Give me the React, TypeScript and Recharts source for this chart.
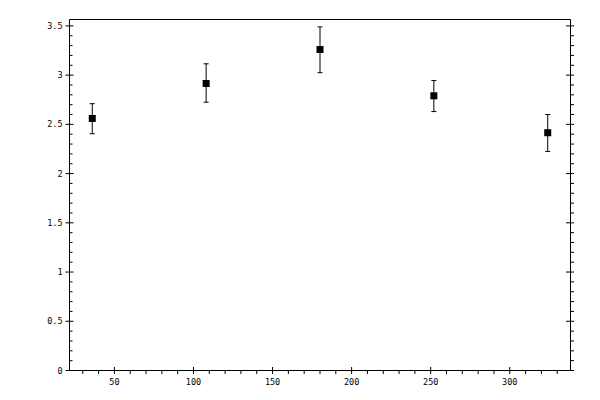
import React from "react";
import { ScatterChart, Scatter, XAxis, YAxis, ErrorBar } from "recharts";

// measured points (x, y) with asymmetric error bars
const xValues = [36, 108, 180, 252, 324];
const yValues = [2.56, 2.915, 3.26, 2.79, 2.415];
const errUp = [0.15, 0.2, 0.23, 0.155, 0.185];
const errDown = [0.155, 0.19, 0.235, 0.16, 0.19];

// axis ticks and labels
const xTicks = [50, 100, 150, 200, 250, 300];
const xTickLabels = ["50", "100", "150", "200", "250", "300"];
const yTicks = [0, 0.5, 1, 1.5, 2, 2.5, 3, 3.5];
const yTickLabels = ["0", "0.5", "1", "1.5", "2", "2.5", "3", "3.5"];

// minor ticks every 10 on x, every 0.1 on y
const xMinor = Array.from({ length: 31 }, (_, i) => 30 + i * 10);
const yMinor = Array.from({ length: 36 }, (_, i) => i / 10);

const data = xValues.map((x, i) => ({
  x,
  y: yValues[i],
  err: [errDown[i], errUp[i]],
}));

const font = { fontFamily: "DejaVu Sans Mono", fontSize: 8.5, fill: "#000" };

const BottomTick = (props: any) => {
  const { x, y, payload } = props;
  const idx = xTicks.indexOf(payload.value);
  if (idx < 0) return <line x1={x} x2={x} y1={y} y2={y + 3.5} stroke="#000" />;
  return (
    <g>
      <line x1={x} x2={x} y1={y - 3.5} y2={y + 3.5} stroke="#000" />
      <text x={x} y={y + 14} textAnchor="middle" {...font}>
        {xTickLabels[idx]}
      </text>
    </g>
  );
};

const TopTick = (props: any) => {
  const { x, y, payload } = props;
  const major = xTicks.indexOf(payload.value) >= 0;
  return <line x1={x} x2={x} y1={y - 4} y2={major ? y + 4 : y} stroke="#000" />;
};

const LeftTick = (props: any) => {
  const { x, y, payload } = props;
  const idx = yTicks.indexOf(payload.value);
  if (idx < 0) return <line x1={x} x2={x + 3} y1={y} y2={y} stroke="#000" />;
  return (
    <g>
      <line x1={x - 4} x2={x + 4} y1={y} y2={y} stroke="#000" />
      <text x={x - 7} y={y} textAnchor="end" dominantBaseline="central" {...font}>
        {yTickLabels[idx]}
      </text>
    </g>
  );
};

const RightTick = (props: any) => {
  const { x, y, payload } = props;
  const major = yTicks.indexOf(payload.value) >= 0;
  return <line x1={major ? x - 4.5 : x} x2={x + 3.5} y1={y} y2={y} stroke="#000" />;
};

const SquareDot = (props: any) => {
  const { cx, cy } = props;
  return <rect x={cx - 3.5} y={cy - 3.5} width={7} height={7} fill="#000" />;
};

export default function App() {
  return (
    <div style={{ position: "absolute", left: 0, top: 0, width: 600, height: 400, background: "#fff" }}>
      <ScatterChart
        width={600}
        height={400}
        margin={{ top: 18.5, right: 28.5, bottom: 28.5, left: 68.5 }}
      >
        <XAxis
          xAxisId="bottom"
          dataKey="x"
          type="number"
          domain={[21.6, 338.4]}
          allowDataOverflow
          ticks={xMinor}
          interval={0}
          height={1}
          tickSize={0}
          tickMargin={0}
          tick={<BottomTick />}
          axisLine={{ stroke: "#000" }}
        />
        <XAxis
          xAxisId="top"
          orientation="top"
          type="number"
          domain={[21.6, 338.4]}
          allowDataOverflow
          ticks={xMinor}
          interval={0}
          height={1}
          tickSize={0}
          tickMargin={0}
          tick={<TopTick />}
          axisLine={{ stroke: "#000" }}
        />
        <YAxis
          yAxisId="left"
          dataKey="y"
          type="number"
          domain={[0, 3.565]}
          allowDataOverflow
          ticks={yMinor}
          interval={0}
          width={1}
          tickSize={0}
          tickMargin={0}
          tick={<LeftTick />}
          axisLine={{ stroke: "#000" }}
        />
        <YAxis
          yAxisId="right"
          orientation="right"
          type="number"
          domain={[0, 3.565]}
          allowDataOverflow
          ticks={yMinor}
          interval={0}
          width={1}
          tickSize={0}
          tickMargin={0}
          tick={<RightTick />}
          axisLine={{ stroke: "#000" }}
        />
        <Scatter
          data={data}
          xAxisId="bottom"
          yAxisId="left"
          shape={<SquareDot />}
          isAnimationActive={false}
        >
          <ErrorBar
            dataKey="err"
            direction="y"
            width={2.5}
            stroke="#000"
            strokeWidth={1}
            isAnimationActive={false}
          />
        </Scatter>
      </ScatterChart>
    </div>
  );
}
